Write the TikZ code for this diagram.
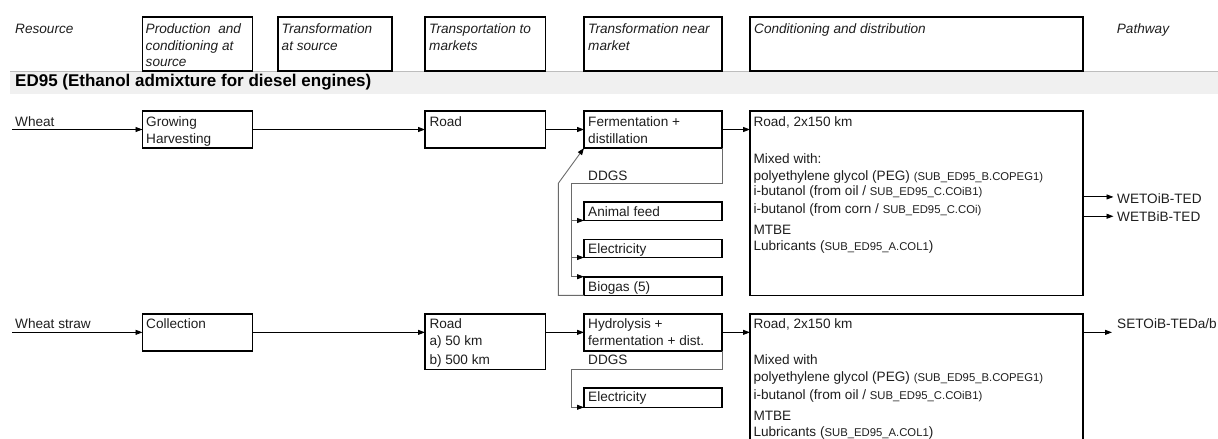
\documentclass[tikz,border=0pt]{standalone}
\usepackage{fontspec}
\setmainfont{Liberation Sans}
\usetikzlibrary{arrows.meta,calc}

\definecolor{ink}{HTML}{1E1E1E}
\definecolor{bandfill}{HTML}{F0F0F0}
\definecolor{bandline}{HTML}{BDBDBD}
\definecolor{feedline}{HTML}{6A6A6A}

\newcommand\fbody{\fontsize{13.6}{16}\selectfont}
\newcommand\fhead{\fontsize{13.6}{16}\selectfont\itshape}
\newcommand\fsub{\fontsize{11.3}{13}\selectfont}
\newcommand\ftitle{\fontsize{17}{20}\selectfont\bfseries}

\tikzset{
  x=1pt, y=-1pt,
  box/.style={draw=black, line width=1.6pt, inner sep=0pt, outer sep=0pt, anchor=north west},
  txt/.style={anchor=base west, inner sep=0pt, text=ink, font=\fbody},
  hdr/.style={anchor=base west, inner sep=0pt, text=ink, font=\fhead},
  flow/.style={draw=black, line width=0.9pt, -{Triangle[length=7pt,width=5pt]}},
  side/.style={draw=feedline, line width=0.9pt},
  sidearrow/.style={side, -{Triangle[length=7pt,width=5pt,color=black]}}
}

\begin{document}
\begin{tikzpicture}
\useasboundingbox (0,0) rectangle (1218,439);
\clip (0,0) rectangle (1218,439);

% section band
\fill[bandfill] (10,71) rectangle (1218,94);
\draw[bandline, line width=1pt] (10,71) -- (1218,71);
\node[anchor=base west, inner sep=0pt, font=\ftitle] (title) at (15,86.7) {ED95 (Ethanol admixture for diesel engines)};

% column headers
\node[hdr] (hres) at (15,33.3) {Resource};
\node[box, minimum width=110pt, minimum height=54pt] (h1) at (142.5,17) {};
\node[box, minimum width=114pt, minimum height=54pt] (h2) at (278,17) {};
\node[box, minimum width=120.5pt, minimum height=54pt] (h3) at (425,17) {};
\node[box, minimum width=138pt, minimum height=54pt] (h4) at (584,17) {};
\node[box, minimum width=333pt, minimum height=54pt] (h5) at (750,17) {};
\node[hdr] (h1a) at (145.5,33.3) {Production\ \ and};
\node[hdr] (h1b) at (145.5,50.2) {conditioning at};
\node[hdr] (h1c) at (145.5,66.8) {source};
\node[hdr] (h2a) at (281.5,33.3) {Transformation};
\node[hdr] (h2b) at (281.5,50.2) {at source};
\node[hdr] (h3a) at (429,33.3) {Transportation to};
\node[hdr] (h3b) at (429,50.2) {markets};
\node[hdr] (h4a) at (588,33.3) {Transformation near};
\node[hdr] (h4b) at (588,50.2) {market};
\node[hdr] (h5a) at (754,33.3) {Conditioning and distribution};
\node[hdr] (hpath) at (1116.7,33.3) {Pathway};

% ---------- wheat pathway ----------
\node[txt] (wheat) at (15,126.7) {Wheat};
\node[box, minimum width=110pt, minimum height=37pt] (gh) at (142.5,111) {};
\node[box, minimum width=120.5pt, minimum height=37pt] (road1) at (425,111) {};
\node[box, minimum width=138pt, minimum height=37pt] (ferm) at (584,111) {};
\node[box, minimum width=333pt, minimum height=184.5pt] (cd1) at (750,111) {};
\node[box, minimum width=138pt, minimum height=18.5pt] (af) at (584,202) {};
\node[box, minimum width=138pt, minimum height=18.2pt] (el1) at (584,239.3) {};
\node[box, minimum width=138pt, minimum height=18.6pt] (bg) at (584,276.7) {};
\coordinate (wsrc) at ($(wheat.west |- gh.west)+(-3,0)$);

\node[txt] (gha) at (146,126.7) {Growing};
\node[txt] (ghb) at (146,143.3) {Harvesting};
\node[txt] (r1a) at (429.3,126.7) {Road};
\node[txt] (fa) at (588,126.7) {Fermentation +};
\node[txt] (fb) at (588,143.3) {distillation};
\node[txt] (dd1) at (588,180) {DDGS};
\node[txt] (afa) at (588,216) {Animal feed};
\node[txt] (ela) at (588,253.3) {Electricity};
\node[txt] (bga) at (588,291.7) {Biogas (5)};

\node[txt] (c1a) at (753.3,126) {Road, 2x150 km};
\node[txt] (c1b) at (753.3,163.3) {Mixed with:};
\node[txt] (c1c) at (753.3,180) {polyethylene glycol (PEG) {\fsub (SUB\_ED95\_B.COPEG1)}};
\node[txt] (c1d) at (753.3,195.3) {i-butanol (from oil / {\fsub SUB\_ED95\_C.COiB1)}};
\node[txt] (c1e) at (753.3,213.3) {i-butanol (from corn / {\fsub SUB\_ED95\_C.COi)}};
\node[txt] (c1f) at (753.3,234) {MTBE};
\node[txt] (c1g) at (753.3,250.7) {Lubricants ({\fsub SUB\_ED95\_A.COL1})};

\node[txt] (p1) at (1117,203.3) {WETOiB-TED};
\node[txt] (p2) at (1117,221.7) {WETBiB-TED};

\draw[flow] (wsrc) -- (gh.west);
\draw[flow] (gh.east) -- (road1.west);
\draw[flow] (road1.east) -- (ferm.west);
\draw[flow] (ferm.east) -- (cd1.west |- ferm.east);
\draw[flow] ($(cd1.east |- p1.west)+(0,-1.5)$) -- ($(p1.west)+(-3.5,-1.5)$);
\draw[flow] ($(cd1.east |- p2.west)+(0,-0.5)$) -- ($(p2.west)+(-3.5,-0.5)$);

% co-product branch and recycle
\coordinate (dj1) at (571.7,183.3);
\coordinate (rc1) at (558.3,183.3);
\draw[side] (ferm.south east) -- (ferm.south east |- dj1) -- (dj1) -- (dj1 |- bg.north west);
\draw[sidearrow] (dj1 |- af.south west) -- (af.south west);
\draw[sidearrow] (dj1 |- el1.south west) -- (el1.south west);
\draw[sidearrow] (dj1 |- bg.north west) -- (bg.north west);
\draw[sidearrow] (bg.south west) -- (rc1 |- bg.south west) -- (rc1) -- (ferm.south west);

% ---------- wheat straw pathway ----------
\node[txt] (straw) at (15,328.3) {Wheat straw};
\node[box, minimum width=110pt, minimum height=36.7pt] (coll) at (142.5,314) {};
\node[box, minimum width=120.5pt, minimum height=55.3pt] (road2) at (425,314) {};
\node[box, minimum width=138pt, minimum height=36.7pt] (hyd) at (584,314) {};
\node[box, minimum width=333pt, minimum height=140pt] (cd2) at (750,314) {};
\node[box, minimum width=138pt, minimum height=19.6pt] (el2) at (584,387.7) {};
\coordinate (ssrc) at ($(straw.west |- coll.west)+(-3,0)$);

\node[txt] (cola) at (146,328.3) {Collection};
\node[txt] (r2a) at (429.3,328.3) {Road};
\node[txt] (r2b) at (429.3,345.7) {a) 50 km};
\node[txt] (r2c) at (429.3,364) {b) 500 km};
\node[txt] (hya) at (588,328.3) {Hydrolysis +};
\node[txt] (hyb) at (588,345.7) {fermentation + dist.};
\node[txt] (dd2) at (588,364) {DDGS};
\node[txt] (el2a) at (588,401.7) {Electricity};

\node[txt] (c2a) at (753.3,328.3) {Road, 2x150 km};
\node[txt] (c2b) at (753.3,364) {Mixed with};
\node[txt] (c2c) at (753.3,381.7) {polyethylene glycol (PEG) {\fsub (SUB\_ED95\_B.COPEG1)}};
\node[txt] (c2d) at (753.3,399.3) {i-butanol (from oil / {\fsub SUB\_ED95\_C.COiB1)}};
\node[txt] (c2e) at (753.3,420) {MTBE};
\node[txt] (c2f) at (753.3,436.7) {Lubricants ({\fsub SUB\_ED95\_A.COL1})};

\node[txt] (p3) at (1117,328.3) {SETOiB-TEDa/b};

\draw[flow] (ssrc) -- (coll.west);
\draw[flow] (coll.east) -- (road2.west |- coll.east);
\draw[flow] (road2.east |- hyd.east) -- (hyd.west);
\draw[flow] (hyd.east) -- (cd2.west |- hyd.east);
\draw[flow] (cd2.east |- hyd.east) -- ($(p3.west |- hyd.east)+(-5,0)$);

\coordinate (dj2) at (571.7,369.3);
\draw[sidearrow] (hyd.south east) -- (hyd.south east |- dj2) -- (dj2) -- (dj2 |- el2.south west) -- (el2.south west);
\end{tikzpicture}
\end{document}
